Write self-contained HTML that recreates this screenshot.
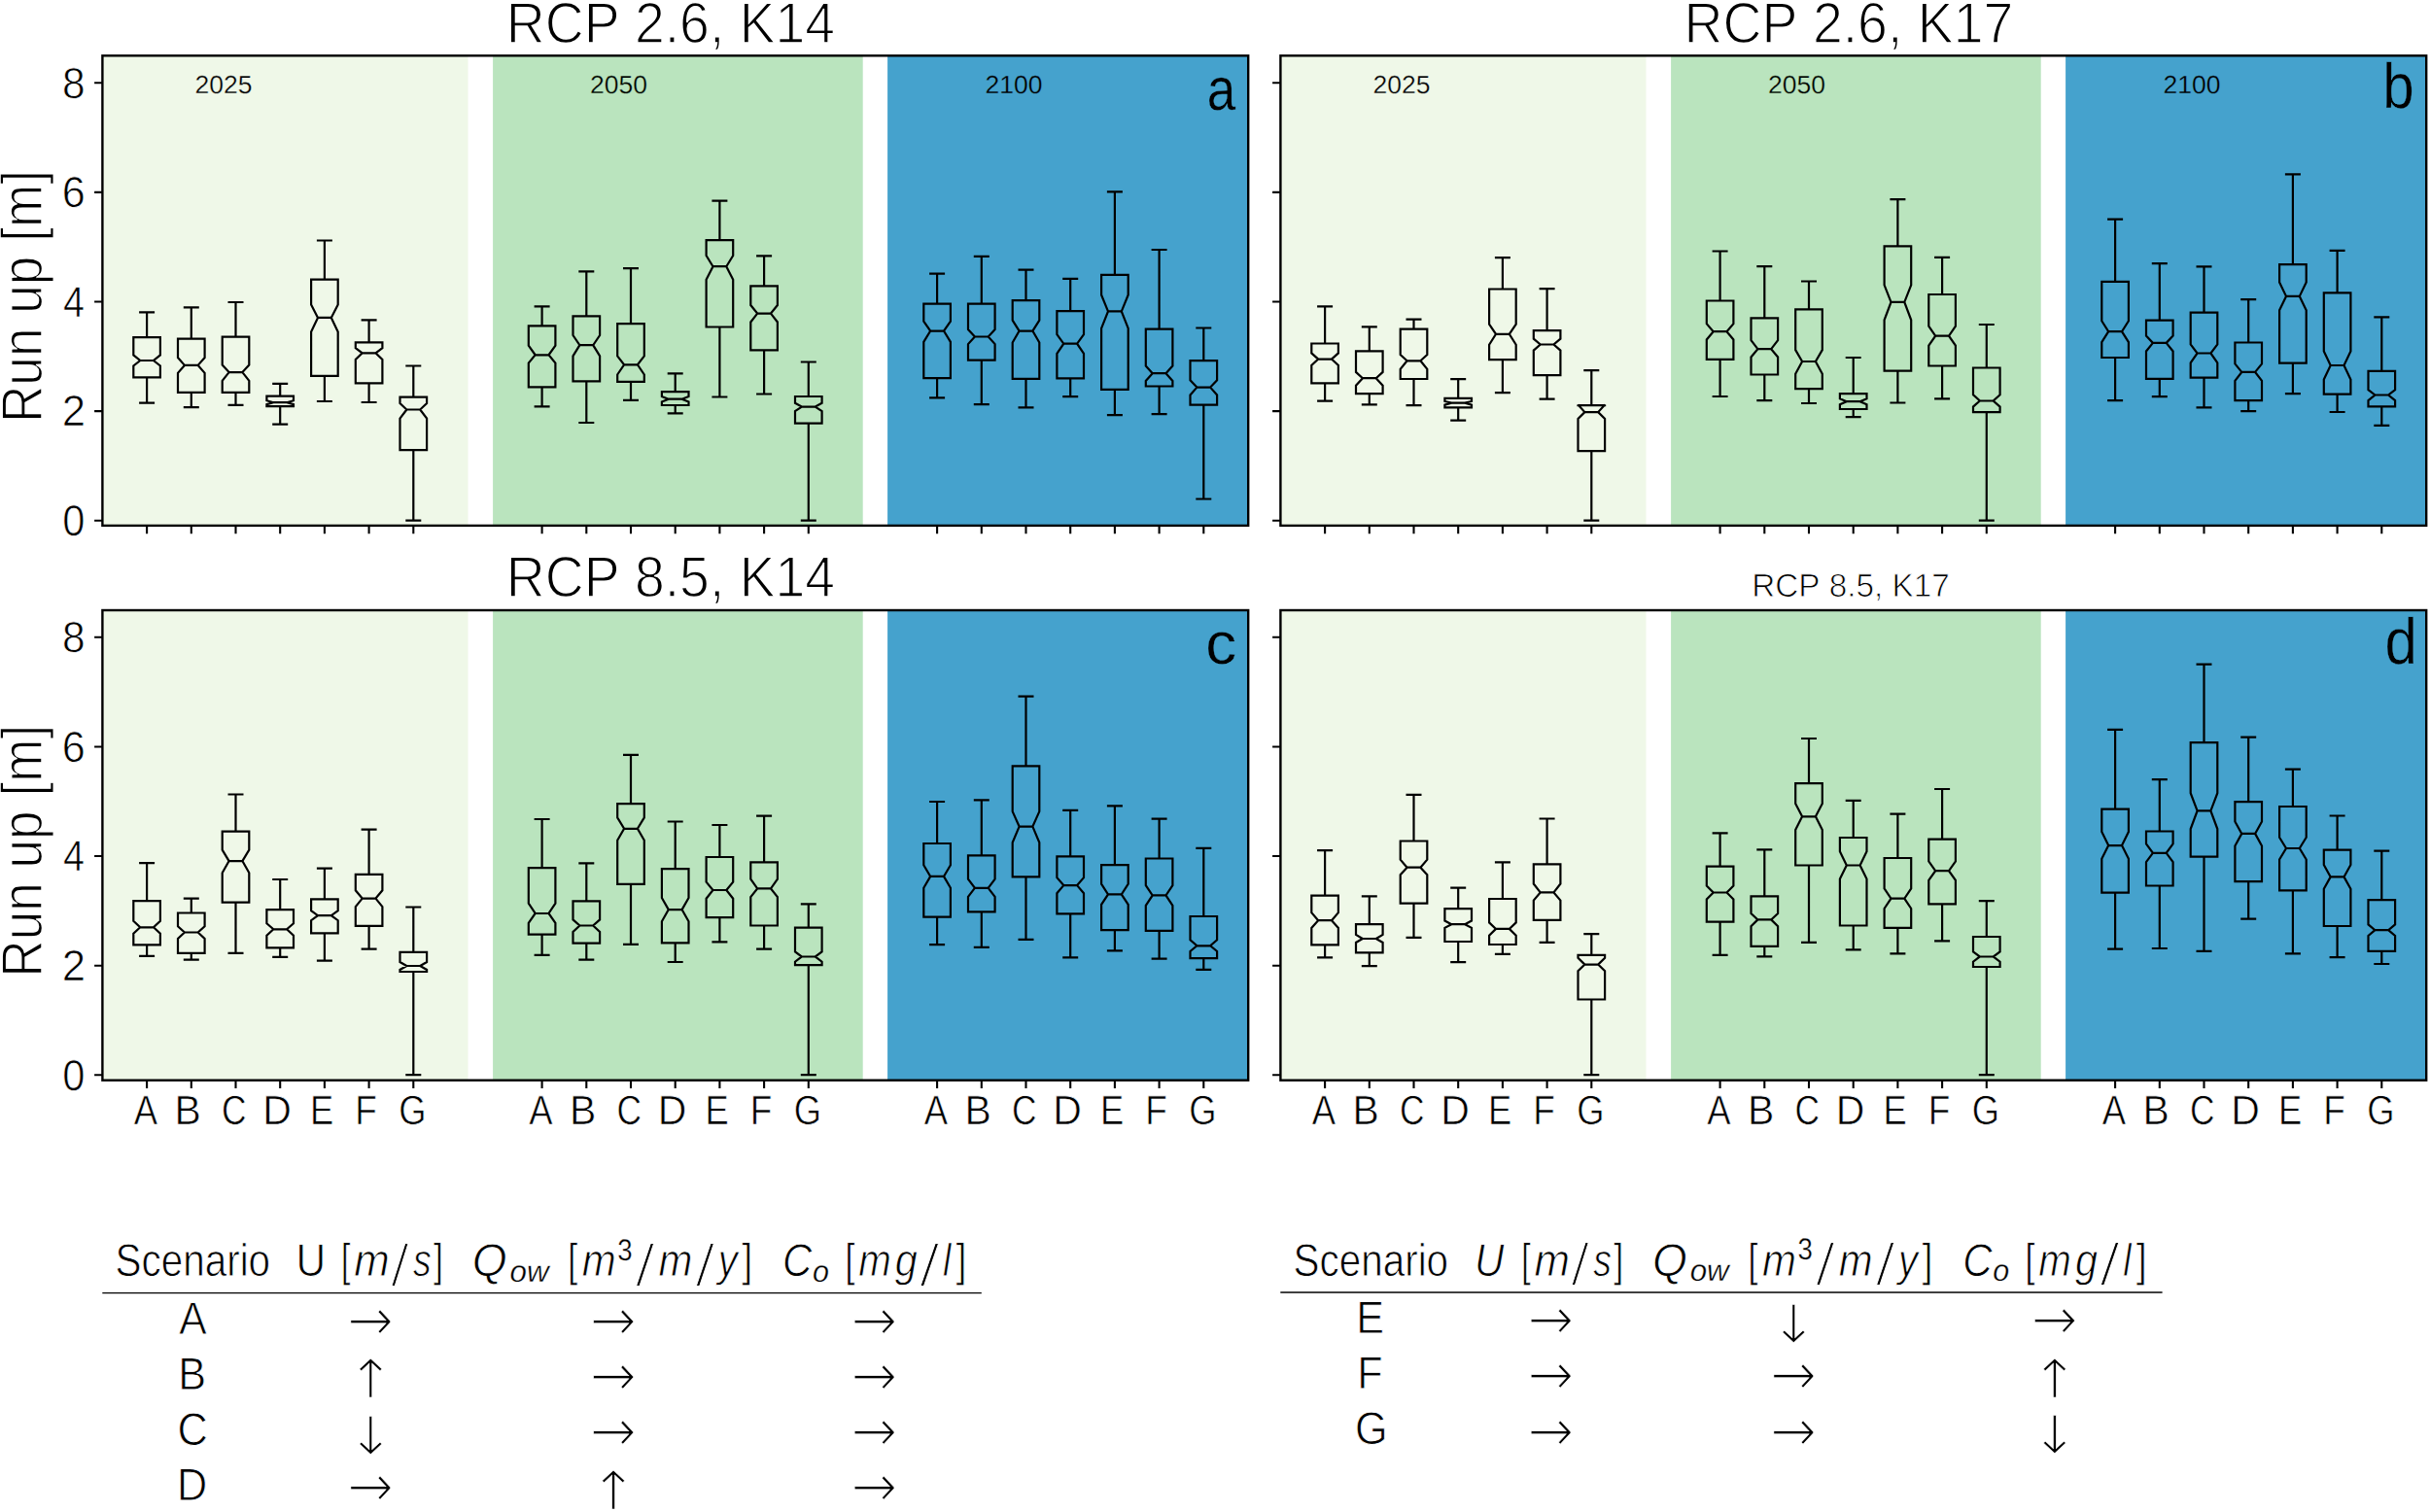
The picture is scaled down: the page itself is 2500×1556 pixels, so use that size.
<!DOCTYPE html>
<html lang="en"><head><meta charset="utf-8"><title>Run up box plots</title>
<style>html,body{margin:0;padding:0;background:#fff}body{width:2500px;height:1556px;overflow:hidden}svg{display:block}text{font-family:"Liberation Sans",sans-serif;fill:#000;font-kerning:none;text-rendering:geometricPrecision}.i{font-style:italic}.x{font-family:"DejaVu Sans Light","DejaVu Sans",sans-serif;font-weight:200}</style></head><body>
<svg width="2500" height="1556" viewBox="0 0 2500 1556">
<rect width="2500" height="1556" fill="#fff"/>
<g id="panel-a">
<rect x="105.4" y="57.3" width="376.1" height="483.6" fill="#EFF8E8"/>
<rect x="507.1" y="57.3" width="380.6" height="483.6" fill="#BAE4BE"/>
<rect x="913.1" y="57.3" width="371.1" height="483.6" fill="#45A2CD"/>
<path d="M137.3 388.4H164.9V376.5L158 371L164.9 365.4V347.1H137.3V365.4L144.2 371L137.3 376.5ZM144.2 371H158M151.1 347.1V321.3M151.1 388.4V414.6M144.2 321.3H158M144.2 414.6H158M183 403.9H210.6V383.8L203.7 375.9L210.6 368V348.7H183V368L189.9 375.9L183 383.8ZM189.9 375.9H203.7M196.8 348.7V316.4M196.8 403.9V419.2M189.9 316.4H203.7M189.9 419.2H203.7M228.7 403.9H256.3V391.8L249.4 383.1L256.3 375.5V346.7H228.7V375.5L235.6 383.1L228.7 391.8ZM235.6 383.1H249.4M242.5 346.7V311M242.5 403.9V416.8M235.6 311H249.4M235.6 416.8H249.4M274.4 418.2H302V416.2L295.1 414.2L302 412.2V407.7H274.4V412.2L281.3 414.2L274.4 416.2ZM281.3 414.2H295.1M288.2 407.7V394.8M288.2 418.2V436.6M281.3 394.8H295.1M281.3 436.6H295.1M320.1 386.8H347.7V341.6L340.8 326.9L347.7 313.4V287.6H320.1V313.4L327 326.9L320.1 341.6ZM327 326.9H340.8M333.9 287.6V247.5M333.9 386.8V413M327 247.5H340.8M327 413H340.8M365.8 394.4H393.4V370L386.5 363.4L393.4 358.1V352.3H365.8V358.1L372.7 363.4L365.8 370ZM372.7 363.4H386.5M379.6 352.3V329.3M379.6 394.4V414M372.7 329.3H386.5M372.7 414H386.5M411.5 463.2H439.1V430.5L432.2 421.5L439.1 415V408.7H411.5V415L418.4 421.5L411.5 430.5ZM418.4 421.5H432.2M425.3 408.7V376.5M425.3 463.2V535.6M418.4 376.5H432.2M418.4 535.6H432.2M543.8 398.3H571.4V373.6L564.5 365.3L571.4 355.6V335.4H543.8V355.6L550.7 365.3L543.8 373.6ZM550.7 365.3H564.5M557.6 335.4V315.4M557.6 398.3V418.3M550.7 315.4H564.5M550.7 418.3H564.5M589.5 392.3H617.1V366.4L610.2 355.2L617.1 345V325.3H589.5V345L596.4 355.2L589.5 366.4ZM596.4 355.2H610.2M603.3 325.3V279.4M603.3 392.3V435M596.4 279.4H610.2M596.4 435H610.2M635.2 392.9H662.8V385.5L655.9 375.4L662.8 366.4V333.1H635.2V366.4L642.1 375.4L635.2 385.5ZM642.1 375.4H655.9M649 333.1V276.2M649 392.9V411.8M642.1 276.2H655.9M642.1 411.8H655.9M680.9 417H708.5V413.6L701.6 410.7L708.5 408V403.1H680.9V408L687.8 410.7L680.9 413.6ZM687.8 410.7H701.6M694.7 403.1V384.4M694.7 417V425.3M687.8 384.4H701.6M687.8 425.3H701.6M726.6 336.5H754.2V287.7L747.3 274.2L754.2 263V247.2H726.6V263L733.5 274.2L726.6 287.7ZM733.5 274.2H747.3M740.4 247.2V206.7M740.4 336.5V408.5M733.5 206.7H747.3M733.5 408.5H747.3M772.3 360.3H799.9V331.5L793 322.6L799.9 314V294.4H772.3V314L779.2 322.6L772.3 331.5ZM779.2 322.6H793M786.1 294.4V263.4M786.1 360.3V405.5M779.2 263.4H793M779.2 405.5H793M818 435.7H845.6V423.1L838.7 418.6L845.6 414.8V408H818V414.8L824.9 418.6L818 423.1ZM824.9 418.6H838.7M831.8 408V372.5M831.8 435.7V535.7M824.9 372.5H838.7M824.9 535.7H838.7M950.3 389.2H977.9V351.9L971 340.6L977.9 330.7V312.7H950.3V330.7L957.2 340.6L950.3 351.9ZM957.2 340.6H971M964.1 312.7V281.7M964.1 389.2V409.4M957.2 281.7H971M957.2 409.4H971M996 370.7H1023.6V354.1L1016.7 346.5L1023.6 339V312.7H996V339L1002.9 346.5L996 354.1ZM1002.9 346.5H1016.7M1009.8 312.7V263.9M1009.8 370.7V416.2M1002.9 263.9H1016.7M1002.9 416.2H1016.7M1041.7 389.9H1069.3V352.5L1062.4 340.6L1069.3 329.6V309.1H1041.7V329.6L1048.6 340.6L1041.7 352.5ZM1048.6 340.6H1062.4M1055.5 309.1V277.6M1055.5 389.9V419.3M1048.6 277.6H1062.4M1048.6 419.3H1062.4M1087.4 389.4H1115V363.8L1108.1 353.7L1115 344.2V320.1H1087.4V344.2L1094.3 353.7L1087.4 363.8ZM1094.3 353.7H1108.1M1101.2 320.1V286.9M1101.2 389.4V408.1M1094.3 286.9H1108.1M1094.3 408.1H1108.1M1133.1 400.9H1160.7V337.9L1153.8 320.4L1160.7 303.5V282.8H1133.1V303.5L1140 320.4L1133.1 337.9ZM1140 320.4H1153.8M1146.9 282.8V197.4M1146.9 400.9V427.2M1140 197.4H1153.8M1140 427.2H1153.8M1178.8 397.5H1206.4V391.9L1199.5 384.2L1206.4 376.6V338.6H1178.8V376.6L1185.7 384.2L1178.8 391.9ZM1185.7 384.2H1199.5M1192.6 338.6V257M1192.6 397.5V426.1M1185.7 257H1199.5M1185.7 426.1H1199.5M1224.5 416.6H1252.1V406.5L1245.2 398.6L1252.1 391.2V371.2H1224.5V391.2L1231.4 398.6L1224.5 406.5ZM1231.4 398.6H1245.2M1238.3 371.2V337.5M1238.3 416.6V513.5M1231.4 337.5H1245.2M1231.4 513.5H1245.2" fill="none" stroke="#000" stroke-width="2.2" stroke-linecap="square" stroke-linejoin="miter" stroke-miterlimit="2"/>
<rect x="105.4" y="57.3" width="1178.8" height="483.6" fill="none" stroke="#000" stroke-width="2.4"/>
<path d="M97.1 535.7H105.4M97.1 423.08H105.4M97.1 310.46H105.4M97.1 197.84H105.4M97.1 85.22H105.4M151.1 540.9V549.2M196.8 540.9V549.2M242.5 540.9V549.2M288.2 540.9V549.2M333.9 540.9V549.2M379.6 540.9V549.2M425.3 540.9V549.2M557.6 540.9V549.2M603.3 540.9V549.2M649 540.9V549.2M694.7 540.9V549.2M740.4 540.9V549.2M786.1 540.9V549.2M831.8 540.9V549.2M964.1 540.9V549.2M1009.8 540.9V549.2M1055.5 540.9V549.2M1101.2 540.9V549.2M1146.9 540.9V549.2M1192.6 540.9V549.2M1238.3 540.9V549.2" fill="none" stroke="#000" stroke-width="2.1"/>
<text transform="translate(64.27 551.1) scale(0.9334 1.0000)" font-size="44.6" stroke="#fff" stroke-width="0.75" vector-effect="non-scaling-stroke">0</text>
<text transform="translate(63.7 438.48) scale(0.9794 1.0000)" font-size="44.6" stroke="#fff" stroke-width="0.75" vector-effect="non-scaling-stroke">2</text>
<text transform="translate(64.99 325.86) scale(0.8855 1.0000)" font-size="44.6" stroke="#fff" stroke-width="0.75" vector-effect="non-scaling-stroke">4</text>
<text transform="translate(63.71 213.24) scale(0.9670 1.0000)" font-size="44.6" stroke="#fff" stroke-width="0.75" vector-effect="non-scaling-stroke">6</text>
<text transform="translate(64.06 100.62) scale(0.9509 1.0000)" font-size="44.6" stroke="#fff" stroke-width="0.75" vector-effect="non-scaling-stroke">8</text>
<text transform="translate(43.1 435.06) rotate(-90) scale(0.8966 1)" font-size="59.3" stroke="#fff" stroke-width="1.46" vector-effect="non-scaling-stroke">Run up [m]</text>
<text transform="translate(200.47 96.3) scale(1.0209 1.0000)" font-size="26" stroke="#EFF8E8" stroke-width="0.3" vector-effect="non-scaling-stroke">2025</text>
<text transform="translate(606.97 96.3) scale(1.0195 1.0000)" font-size="26" stroke="#BAE4BE" stroke-width="0.3" vector-effect="non-scaling-stroke">2050</text>
<text transform="translate(1013.47 96.3) scale(1.0195 1.0000)" font-size="26" stroke="#45A2CD" stroke-width="0.3" vector-effect="non-scaling-stroke">2100</text>
<text transform="translate(520.76 43.5) scale(0.9332 1.0000)" font-size="59.3" stroke="#fff" stroke-width="1.46" vector-effect="non-scaling-stroke">RCP 2.6, K14</text>
<text transform="translate(1241.75 112.6) scale(0.8405 0.9793)" font-size="63" stroke="#45A2CD" stroke-width="0.4" vector-effect="non-scaling-stroke">a</text>
</g>
<g id="panel-b">
<rect x="1317.4" y="57.3" width="376.1" height="483.6" fill="#EFF8E8"/>
<rect x="1719.1" y="57.3" width="380.6" height="483.6" fill="#BAE4BE"/>
<rect x="2125.1" y="57.3" width="371.1" height="483.6" fill="#45A2CD"/>
<path d="M1349.3 394.4H1376.9V375.9L1370 369.6L1376.9 363.4V353.5H1349.3V363.4L1356.2 369.6L1349.3 375.9ZM1356.2 369.6H1370M1363.1 353.5V315.4M1363.1 394.4V412.6M1356.2 315.4H1370M1356.2 412.6H1370M1395 405.1H1422.6V396.7L1415.7 389.2L1422.6 382.9V361.4H1395V382.9L1401.9 389.2L1395 396.7ZM1401.9 389.2H1415.7M1408.8 361.4V336.4M1408.8 405.1V416.4M1401.9 336.4H1415.7M1401.9 416.4H1415.7M1440.7 390H1468.3V379.9L1461.4 371.3L1468.3 365V338.6H1440.7V365L1447.6 371.3L1440.7 379.9ZM1447.6 371.3H1461.4M1454.5 338.6V328.7M1454.5 390V417.2M1447.6 328.7H1461.4M1447.6 417.2H1461.4M1486.4 419.4H1514V416.6L1507.1 414.6L1514 413V409.8H1486.4V413L1493.3 414.6L1486.4 416.6ZM1493.3 414.6H1507.1M1500.2 409.8V390.2M1500.2 419.4V432.7M1493.3 390.2H1507.1M1493.3 432.7H1507.1M1532.1 370.2H1559.7V354.7L1552.8 343.8L1559.7 333.7V297.5H1532.1V333.7L1539 343.8L1532.1 354.7ZM1539 343.8H1552.8M1545.9 297.5V265.2M1545.9 370.2V404.1M1539 265.2H1552.8M1539 404.1H1552.8M1577.8 386.2H1605.4V360.6L1598.5 354.5L1605.4 348.7V340.2H1577.8V348.7L1584.7 354.5L1577.8 360.6ZM1584.7 354.5H1598.5M1591.6 340.2V297.1M1591.6 386.2V410.6M1584.7 297.1H1598.5M1584.7 410.6H1598.5M1623.5 464.2H1651.1V430.9L1644.2 424.1L1651.1 416.6V417.2H1623.5V416.6L1630.4 424.1L1623.5 430.9ZM1630.4 424.1H1644.2M1637.3 417.2V381.1M1637.3 464.2V535.6M1630.4 381.1H1644.2M1630.4 535.6H1644.2M1755.8 369.8H1783.4V349.5L1776.5 341.2L1783.4 333.1V309.5H1755.8V333.1L1762.7 341.2L1755.8 349.5ZM1762.7 341.2H1776.5M1769.6 309.5V258.5M1769.6 369.8V408M1762.7 258.5H1776.5M1762.7 408H1776.5M1801.5 385.5H1829.1V367.5L1822.2 359.2L1829.1 350.2V327.3H1801.5V350.2L1808.4 359.2L1801.5 367.5ZM1808.4 359.2H1822.2M1815.3 327.3V274.2M1815.3 385.5V412.1M1808.4 274.2H1822.2M1808.4 412.1H1822.2M1847.2 400.1H1874.8V384.8L1867.9 372L1874.8 360.1V318.3H1847.2V360.1L1854.1 372L1847.2 384.8ZM1854.1 372H1867.9M1861 318.3V289.5M1861 400.1V415M1854.1 289.5H1867.9M1854.1 415H1867.9M1892.9 421H1920.5V416.3L1913.6 413.2L1920.5 410.3V405.1H1892.9V410.3L1899.8 413.2L1892.9 416.3ZM1899.8 413.2H1913.6M1906.7 405.1V368M1906.7 421V429.1M1899.8 368H1913.6M1899.8 429.1H1913.6M1938.6 381.7H1966.2V329.3L1959.3 310.9L1966.2 293.3V253.3H1938.6V293.3L1945.5 310.9L1938.6 329.3ZM1945.5 310.9H1959.3M1952.4 253.3V205.2M1952.4 381.7V414.5M1945.5 205.2H1959.3M1945.5 414.5H1959.3M1984.3 376.5H2011.9V355.6L2005 345.7L2011.9 335.6V303H1984.3V335.6L1991.2 345.7L1984.3 355.6ZM1991.2 345.7H2005M1998.1 303V264.8M1998.1 376.5V410.3M1991.2 264.8H2005M1991.2 410.3H2005M2030 424.2H2057.6V418.6L2050.7 412.5L2057.6 406.2V378.5H2030V406.2L2036.9 412.5L2030 418.6ZM2036.9 412.5H2050.7M2043.8 378.5V334M2043.8 424.2V535.7M2036.9 334H2050.7M2036.9 535.7H2050.7M2162.3 368H2189.9V352.1L2183 341.2L2189.9 330.3V289.8H2162.3V330.3L2169.2 341.2L2162.3 352.1ZM2169.2 341.2H2183M2176.1 289.8V225.6M2176.1 368V412.1M2169.2 225.6H2183M2169.2 412.1H2183M2208 389.8H2235.6V361.5L2228.7 352.9L2235.6 345.6V329.7H2208V345.6L2214.9 352.9L2208 361.5ZM2214.9 352.9H2228.7M2221.8 329.7V271.2M2221.8 389.8V408.1M2214.9 271.2H2228.7M2214.9 408.1H2228.7M2253.7 388.7H2281.3V373.4L2274.4 363.5L2281.3 354.5V321.6H2253.7V354.5L2260.6 363.5L2253.7 373.4ZM2260.6 363.5H2274.4M2267.5 321.6V274.4M2267.5 388.7V419.4M2260.6 274.4H2274.4M2260.6 419.4H2274.4M2299.4 412.1H2327V391.8L2320.1 382.9L2327 374.4V352.5H2299.4V374.4L2306.3 382.9L2299.4 391.8ZM2306.3 382.9H2320.1M2313.2 352.5V308.1M2313.2 412.1V423.2M2306.3 308.1H2320.1M2306.3 423.2H2320.1M2345.1 373.6H2372.7V319.2L2365.8 304.9L2372.7 290.4V272.2H2345.1V290.4L2352 304.9L2345.1 319.2ZM2352 304.9H2365.8M2358.9 272.2V179.3M2358.9 373.6V405.1M2352 179.3H2365.8M2352 405.1H2365.8M2390.8 405.7H2418.4V390.6L2411.5 376L2418.4 361.5V301.3H2390.8V361.5L2397.7 376L2390.8 390.6ZM2397.7 376H2411.5M2404.6 301.3V257.9M2404.6 405.7V424M2397.7 257.9H2411.5M2397.7 424H2411.5M2436.5 418.4H2464.1V412.1L2457.2 406.5L2464.1 401.2V381.9H2436.5V401.2L2443.4 406.5L2436.5 412.1ZM2443.4 406.5H2457.2M2450.3 381.9V326.3M2450.3 418.4V437.9M2443.4 326.3H2457.2M2443.4 437.9H2457.2" fill="none" stroke="#000" stroke-width="2.2" stroke-linecap="square" stroke-linejoin="miter" stroke-miterlimit="2"/>
<rect x="1317.4" y="57.3" width="1178.8" height="483.6" fill="none" stroke="#000" stroke-width="2.4"/>
<path d="M1309.1 535.7H1317.4M1309.1 423.08H1317.4M1309.1 310.46H1317.4M1309.1 197.84H1317.4M1309.1 85.22H1317.4M1363.1 540.9V549.2M1408.8 540.9V549.2M1454.5 540.9V549.2M1500.2 540.9V549.2M1545.9 540.9V549.2M1591.6 540.9V549.2M1637.3 540.9V549.2M1769.6 540.9V549.2M1815.3 540.9V549.2M1861 540.9V549.2M1906.7 540.9V549.2M1952.4 540.9V549.2M1998.1 540.9V549.2M2043.8 540.9V549.2M2176.1 540.9V549.2M2221.8 540.9V549.2M2267.5 540.9V549.2M2313.2 540.9V549.2M2358.9 540.9V549.2M2404.6 540.9V549.2M2450.3 540.9V549.2" fill="none" stroke="#000" stroke-width="2.1"/>
<text transform="translate(1412.47 96.3) scale(1.0209 1.0000)" font-size="26" stroke="#EFF8E8" stroke-width="0.3" vector-effect="non-scaling-stroke">2025</text>
<text transform="translate(1818.97 96.3) scale(1.0195 1.0000)" font-size="26" stroke="#BAE4BE" stroke-width="0.3" vector-effect="non-scaling-stroke">2050</text>
<text transform="translate(2225.47 96.3) scale(1.0195 1.0000)" font-size="26" stroke="#45A2CD" stroke-width="0.3" vector-effect="non-scaling-stroke">2100</text>
<text transform="translate(1732.56 43.5) scale(0.9342 1.0000)" font-size="59.3" stroke="#fff" stroke-width="1.46" vector-effect="non-scaling-stroke">RCP 2.6, K17</text>
<text transform="translate(2451.34 111.16) scale(0.9248 1.0332)" font-size="63" stroke="#45A2CD" stroke-width="0.4" vector-effect="non-scaling-stroke">b</text>
</g>
<g id="panel-c">
<rect x="105.4" y="628" width="376.1" height="483.7" fill="#EFF8E8"/>
<rect x="507.1" y="628" width="380.6" height="483.7" fill="#BAE4BE"/>
<rect x="913.1" y="628" width="371.1" height="483.7" fill="#45A2CD"/>
<path d="M137.3 972.4H164.9V960.7L158 954.3L164.9 947.8V927.2H137.3V947.8L144.2 954.3L137.3 960.7ZM144.2 954.3H158M151.1 927.2V888.1M151.1 972.4V983.9M144.2 888.1H158M144.2 983.9H158M183 980.9H210.6V966L203.7 959.5L210.6 953.2V939.5H183V953.2L189.9 959.5L183 966ZM189.9 959.5H203.7M196.8 939.5V924.6M196.8 980.9V987.7M189.9 924.6H203.7M189.9 987.7H203.7M228.7 928.6H256.3V898.2L249.4 886.1L256.3 874.6V855.6H228.7V874.6L235.6 886.1L228.7 898.2ZM235.6 886.1H249.4M242.5 855.6V817.5M242.5 928.6V980.9M235.6 817.5H249.4M235.6 980.9H249.4M274.4 975.4H302V962.7L295.1 956.3L302 950.2V936.1H274.4V950.2L281.3 956.3L274.4 962.7ZM281.3 956.3H295.1M288.2 936.1V905M288.2 975.4V984.9M281.3 905H295.1M281.3 984.9H295.1M320.1 960.3H347.7V947.2L340.8 942.2L347.7 937.1V925.4H320.1V937.1L327 942.2L320.1 947.2ZM327 942.2H340.8M333.9 925.4V893.7M333.9 960.3V988.7M327 893.7H340.8M327 988.7H340.8M365.8 952.8H393.4V933.1L386.5 924.6L393.4 916.3V899.8H365.8V916.3L372.7 924.6L365.8 933.1ZM372.7 924.6H386.5M379.6 899.8V853.6M379.6 952.8V976.6M372.7 853.6H386.5M372.7 976.6H386.5M411.5 1000H439.1V998L432.2 994L439.1 990V979.9H411.5V990L418.4 994L411.5 998ZM418.4 994H432.2M425.3 979.9V933.5M425.3 1000V1106.1M418.4 933.5H432.2M418.4 1106.1H432.2M543.8 961.7H571.4V949.8L564.5 940L571.4 929.7V893.2H543.8V929.7L550.7 940L543.8 949.8ZM550.7 940H564.5M557.6 893.2V843M557.6 961.7V982.9M550.7 843H564.5M550.7 982.9H564.5M589.5 970.6H617.1V958.9L610.2 952.5L617.1 946.4V927.4H589.5V946.4L596.4 952.5L589.5 958.9ZM596.4 952.5H610.2M603.3 927.4V888.4M603.3 970.6V987.7M596.4 888.4H610.2M596.4 987.7H610.2M635.2 909.9H662.8V864.7L655.9 852.8L662.8 841.4V827.1H635.2V841.4L642.1 852.8L635.2 864.7ZM642.1 852.8H655.9M649 827.1V776.9M649 909.9V971.9M642.1 776.9H655.9M642.1 971.9H655.9M680.9 970.3H708.5V948.2L701.6 936.1L708.5 924V894.1H680.9V924L687.8 936.1L680.9 948.2ZM687.8 936.1H701.6M694.7 894.1V845.5M694.7 970.3V990M687.8 845.5H701.6M687.8 990H701.6M726.6 944.1H754.2V924.7L747.3 916L754.2 907.6V882H726.6V907.6L733.5 916L726.6 924.7ZM733.5 916H747.3M740.4 882V849M740.4 944.1V969.4M733.5 849H747.3M733.5 969.4H747.3M772.3 952.5H799.9V923.1L793 914.4L799.9 904.6V887.3H772.3V904.6L779.2 914.4L772.3 923.1ZM779.2 914.4H793M786.1 887.3V839.6M786.1 952.5V976.7M779.2 839.6H793M779.2 976.7H793M818 993.2H845.6V989.7L838.7 984.5L845.6 979.5V954.6H818V979.5L824.9 984.5L818 989.7ZM824.9 984.5H838.7M831.8 954.6V930.4M831.8 993.2V1106.1M824.9 930.4H838.7M824.9 1106.1H838.7M950.3 943.6H977.9V913.8L971 901.9L977.9 890.2V868H950.3V890.2L957.2 901.9L950.3 913.8ZM957.2 901.9H971M964.1 868V825M964.1 943.6V972.2M957.2 825H971M957.2 972.2H971M996 938.4H1023.6V922.8L1016.7 913.8L1023.6 904.7V880.3H996V904.7L1002.9 913.8L996 922.8ZM1002.9 913.8H1016.7M1009.8 880.3V823.4M1009.8 938.4V974.9M1002.9 823.4H1016.7M1002.9 974.9H1016.7M1041.7 902.3H1069.3V867L1062.4 850.6L1069.3 835.1V788.3H1041.7V835.1L1048.6 850.6L1041.7 867ZM1048.6 850.6H1062.4M1055.5 788.3V716.7M1055.5 902.3V966.8M1048.6 716.7H1062.4M1048.6 966.8H1062.4M1087.4 940.4H1115V919.2L1108.1 911.1L1115 903.1V881.3H1087.4V903.1L1094.3 911.1L1087.4 919.2ZM1094.3 911.1H1108.1M1101.2 881.3V833.9M1101.2 940.4V985.4M1094.3 833.9H1108.1M1094.3 985.4H1108.1M1133.1 957.1H1160.7V930.9L1153.8 920.4L1160.7 909.7V890.2H1133.1V909.7L1140 920.4L1133.1 930.9ZM1140 920.4H1153.8M1146.9 890.2V829.4M1146.9 957.1V978.3M1140 829.4H1153.8M1140 978.3H1153.8M1178.8 957.9H1206.4V931.9L1199.5 921.4L1206.4 911.1V883.5H1178.8V911.1L1185.7 921.4L1178.8 931.9ZM1185.7 921.4H1199.5M1192.6 883.5V842.6M1192.6 957.9V986.6M1185.7 842.6H1199.5M1185.7 986.6H1199.5M1224.5 986.2H1252.1V978.9L1245.2 973.3L1252.1 967.2V943H1224.5V967.2L1231.4 973.3L1224.5 978.9ZM1231.4 973.3H1245.2M1238.3 943V872.8M1238.3 986.2V997.9M1231.4 872.8H1245.2M1231.4 997.9H1245.2" fill="none" stroke="#000" stroke-width="2.2" stroke-linecap="square" stroke-linejoin="miter" stroke-miterlimit="2"/>
<rect x="105.4" y="628" width="1178.8" height="483.7" fill="none" stroke="#000" stroke-width="2.4"/>
<path d="M97.1 1106.3H105.4M97.1 993.68H105.4M97.1 881.06H105.4M97.1 768.44H105.4M97.1 655.82H105.4M151.1 1111.7V1120M196.8 1111.7V1120M242.5 1111.7V1120M288.2 1111.7V1120M333.9 1111.7V1120M379.6 1111.7V1120M425.3 1111.7V1120M557.6 1111.7V1120M603.3 1111.7V1120M649 1111.7V1120M694.7 1111.7V1120M740.4 1111.7V1120M786.1 1111.7V1120M831.8 1111.7V1120M964.1 1111.7V1120M1009.8 1111.7V1120M1055.5 1111.7V1120M1101.2 1111.7V1120M1146.9 1111.7V1120M1192.6 1111.7V1120M1238.3 1111.7V1120" fill="none" stroke="#000" stroke-width="2.1"/>
<text transform="translate(64.27 1121.7) scale(0.9334 1.0000)" font-size="44.6" stroke="#fff" stroke-width="0.75" vector-effect="non-scaling-stroke">0</text>
<text transform="translate(63.7 1009.08) scale(0.9794 1.0000)" font-size="44.6" stroke="#fff" stroke-width="0.75" vector-effect="non-scaling-stroke">2</text>
<text transform="translate(64.99 896.46) scale(0.8855 1.0000)" font-size="44.6" stroke="#fff" stroke-width="0.75" vector-effect="non-scaling-stroke">4</text>
<text transform="translate(63.71 783.84) scale(0.9670 1.0000)" font-size="44.6" stroke="#fff" stroke-width="0.75" vector-effect="non-scaling-stroke">6</text>
<text transform="translate(64.06 671.22) scale(0.9509 1.0000)" font-size="44.6" stroke="#fff" stroke-width="0.75" vector-effect="non-scaling-stroke">8</text>
<text transform="translate(43.1 1005.76) rotate(-90) scale(0.8966 1)" font-size="59.3" stroke="#fff" stroke-width="1.46" vector-effect="non-scaling-stroke">Run up [m]</text>
<text transform="translate(137.83 1156.9) scale(0.8608 1.0000)" font-size="42.4" stroke="#fff" stroke-width="0.65" vector-effect="non-scaling-stroke">A</text>
<text transform="translate(179.54 1156.9) scale(0.9660 1.0000)" font-size="42.4" stroke="#fff" stroke-width="0.65" vector-effect="non-scaling-stroke">B</text>
<text transform="translate(227.9 1156.9) scale(0.8342 1.0000)" font-size="42.4" stroke="#fff" stroke-width="0.65" vector-effect="non-scaling-stroke">C</text>
<text transform="translate(270.13 1156.9) scale(0.9676 1.0000)" font-size="42.4" stroke="#fff" stroke-width="0.65" vector-effect="non-scaling-stroke">D</text>
<text transform="translate(318.92 1156.9) scale(0.8572 1.0000)" font-size="42.4" stroke="#fff" stroke-width="0.65" vector-effect="non-scaling-stroke">E</text>
<text transform="translate(365.26 1156.9) scale(0.8734 1.0000)" font-size="42.4" stroke="#fff" stroke-width="0.65" vector-effect="non-scaling-stroke">F</text>
<text transform="translate(410.27 1156.9) scale(0.8562 1.0000)" font-size="42.4" stroke="#fff" stroke-width="0.65" vector-effect="non-scaling-stroke">G</text>
<text transform="translate(544.33 1156.9) scale(0.8608 1.0000)" font-size="42.4" stroke="#fff" stroke-width="0.65" vector-effect="non-scaling-stroke">A</text>
<text transform="translate(586.04 1156.9) scale(0.9660 1.0000)" font-size="42.4" stroke="#fff" stroke-width="0.65" vector-effect="non-scaling-stroke">B</text>
<text transform="translate(634.4 1156.9) scale(0.8342 1.0000)" font-size="42.4" stroke="#fff" stroke-width="0.65" vector-effect="non-scaling-stroke">C</text>
<text transform="translate(676.63 1156.9) scale(0.9676 1.0000)" font-size="42.4" stroke="#fff" stroke-width="0.65" vector-effect="non-scaling-stroke">D</text>
<text transform="translate(725.42 1156.9) scale(0.8572 1.0000)" font-size="42.4" stroke="#fff" stroke-width="0.65" vector-effect="non-scaling-stroke">E</text>
<text transform="translate(771.76 1156.9) scale(0.8734 1.0000)" font-size="42.4" stroke="#fff" stroke-width="0.65" vector-effect="non-scaling-stroke">F</text>
<text transform="translate(816.77 1156.9) scale(0.8562 1.0000)" font-size="42.4" stroke="#fff" stroke-width="0.65" vector-effect="non-scaling-stroke">G</text>
<text transform="translate(950.83 1156.9) scale(0.8608 1.0000)" font-size="42.4" stroke="#fff" stroke-width="0.65" vector-effect="non-scaling-stroke">A</text>
<text transform="translate(992.54 1156.9) scale(0.9660 1.0000)" font-size="42.4" stroke="#fff" stroke-width="0.65" vector-effect="non-scaling-stroke">B</text>
<text transform="translate(1040.9 1156.9) scale(0.8342 1.0000)" font-size="42.4" stroke="#fff" stroke-width="0.65" vector-effect="non-scaling-stroke">C</text>
<text transform="translate(1083.13 1156.9) scale(0.9676 1.0000)" font-size="42.4" stroke="#fff" stroke-width="0.65" vector-effect="non-scaling-stroke">D</text>
<text transform="translate(1131.92 1156.9) scale(0.8572 1.0000)" font-size="42.4" stroke="#fff" stroke-width="0.65" vector-effect="non-scaling-stroke">E</text>
<text transform="translate(1178.26 1156.9) scale(0.8734 1.0000)" font-size="42.4" stroke="#fff" stroke-width="0.65" vector-effect="non-scaling-stroke">F</text>
<text transform="translate(1223.27 1156.9) scale(0.8562 1.0000)" font-size="42.4" stroke="#fff" stroke-width="0.65" vector-effect="non-scaling-stroke">G</text>
<text transform="translate(520.76 614.2) scale(0.9332 1.0000)" font-size="59.3" stroke="#fff" stroke-width="1.46" vector-effect="non-scaling-stroke">RCP 8.5, K14</text>
<text transform="translate(1240.29 682.61) scale(1.0124 0.9648)" font-size="63" stroke="#45A2CD" stroke-width="0.4" vector-effect="non-scaling-stroke">c</text>
</g>
<g id="panel-d">
<rect x="1317.4" y="628" width="376.1" height="483.7" fill="#EFF8E8"/>
<rect x="1719.1" y="628" width="380.6" height="483.7" fill="#BAE4BE"/>
<rect x="2125.1" y="628" width="371.1" height="483.7" fill="#45A2CD"/>
<path d="M1349.3 972.4H1376.9V954.9L1370 947.2L1376.9 939.1V921.6H1349.3V939.1L1356.2 947.2L1349.3 954.9ZM1356.2 947.2H1370M1363.1 921.6V875.2M1363.1 972.4V985.3M1356.2 875.2H1370M1356.2 985.3H1370M1395 980.3H1422.6V970L1415.7 966L1422.6 961.9V951.2H1395V961.9L1401.9 966L1395 970ZM1401.9 966H1415.7M1408.8 951.2V922.4M1408.8 980.3V994.2M1401.9 922.4H1415.7M1401.9 994.2H1415.7M1440.7 929.6H1468.3V900.2L1461.4 892.7L1468.3 884.7V865.5H1440.7V884.7L1447.6 892.7L1440.7 900.2ZM1447.6 892.7H1461.4M1454.5 865.5V817.9M1454.5 929.6V964.9M1447.6 817.9H1461.4M1447.6 964.9H1461.4M1486.4 969H1514V954.9L1507.1 951.2L1514 947.6V935.1H1486.4V947.6L1493.3 951.2L1486.4 954.9ZM1493.3 951.2H1507.1M1500.2 935.1V913.7M1500.2 969V990.2M1493.3 913.7H1507.1M1493.3 990.2H1507.1M1532.1 972H1559.7V962.7L1552.8 955.9L1559.7 949.4V925H1532.1V949.4L1539 955.9L1532.1 962.7ZM1539 955.9H1552.8M1545.9 925V887.3M1545.9 972V981.9M1539 887.3H1552.8M1539 981.9H1552.8M1577.8 946.8H1605.4V926.6L1598.5 918.4L1605.4 909.5V889.3H1577.8V909.5L1584.7 918.4L1577.8 926.6ZM1584.7 918.4H1598.5M1591.6 889.3V842.5M1591.6 946.8V969.8M1584.7 842.5H1598.5M1584.7 969.8H1598.5M1623.5 1028.5H1651.1V999.2L1644.2 992.6L1651.1 985.9V982.9H1623.5V985.9L1630.4 992.6L1623.5 999.2ZM1630.4 992.6H1644.2M1637.3 982.9V961.1M1637.3 1028.5V1106.1M1630.4 961.1H1644.2M1630.4 1106.1H1644.2M1755.8 948.7H1783.4V925.4L1776.5 918.5L1783.4 911.5V891.6H1755.8V911.5L1762.7 918.5L1755.8 925.4ZM1762.7 918.5H1776.5M1769.6 891.6V857.4M1769.6 948.7V982.9M1762.7 857.4H1776.5M1762.7 982.9H1776.5M1801.5 973.8H1829.1V953.2L1822.2 946.4L1829.1 940V922.4H1801.5V940L1808.4 946.4L1801.5 953.2ZM1808.4 946.4H1822.2M1815.3 922.4V874.3M1815.3 973.8V984.3M1808.4 874.3H1822.2M1808.4 984.3H1822.2M1847.2 890.5H1874.8V854L1867.9 840.3L1874.8 827.1V806.1H1847.2V827.1L1854.1 840.3L1847.2 854ZM1854.1 840.3H1867.9M1861 806.1V760M1861 890.5V969.9M1854.1 760H1867.9M1854.1 969.9H1867.9M1892.9 952.5H1920.5V904.6L1913.6 890.5L1920.5 876.3V862H1892.9V876.3L1899.8 890.5L1892.9 904.6ZM1899.8 890.5H1913.6M1906.7 862V823.9M1906.7 952.5V977.4M1899.8 823.9H1913.6M1899.8 977.4H1913.6M1938.6 954.8H1966.2V935L1959.3 924.7L1966.2 914.4V883H1938.6V914.4L1945.5 924.7L1938.6 935ZM1945.5 924.7H1959.3M1952.4 883V837.6M1952.4 954.8V981.3M1945.5 837.6H1959.3M1945.5 981.3H1959.3M1984.3 930.4H2011.9V905.8L2005 896.2L2011.9 886.4V863.6H1984.3V886.4L1991.2 896.2L1984.3 905.8ZM1991.2 896.2H2005M1998.1 863.6V812M1998.1 930.4V968.3M1991.2 812H2005M1991.2 968.3H2005M2030 995H2057.6V989.7L2050.7 984.5L2057.6 979.5V964H2030V979.5L2036.9 984.5L2030 989.7ZM2036.9 984.5H2050.7M2043.8 964V927.2M2043.8 995V1106.1M2036.9 927.2H2050.7M2036.9 1106.1H2050.7M2162.3 918.6H2189.9V883.8L2183 870.1L2189.9 856.1V832.6H2162.3V856.1L2169.2 870.1L2162.3 883.8ZM2169.2 870.1H2183M2176.1 832.6V750.9M2176.1 918.6V976.7M2169.2 750.9H2183M2169.2 976.7H2183M2208 911.5H2235.6V887.1L2228.7 877.8L2235.6 868.3V855.5H2208V868.3L2214.9 877.8L2208 887.1ZM2214.9 877.8H2228.7M2221.8 855.5V802.1M2221.8 911.5V976M2214.9 802.1H2228.7M2214.9 976H2228.7M2253.7 881.6H2281.3V853L2274.4 834.4L2281.3 816.2V764.2H2253.7V816.2L2260.6 834.4L2253.7 853ZM2260.6 834.4H2274.4M2267.5 764.2V683.7M2267.5 881.6V978.9M2260.6 683.7H2274.4M2260.6 978.9H2274.4M2299.4 907.1H2327V870.5L2320.1 857.9L2327 845.5V825.1H2299.4V845.5L2306.3 857.9L2299.4 870.5ZM2306.3 857.9H2320.1M2313.2 825.1V758.6M2313.2 907.1V945.6M2306.3 758.6H2320.1M2306.3 945.6H2320.1M2345.1 916.4H2372.7V884.5L2365.8 873L2372.7 861.7V830H2345.1V861.7L2352 873L2345.1 884.5ZM2352 873H2365.8M2358.9 830V791.6M2358.9 916.4V981.3M2352 791.6H2365.8M2352 981.3H2365.8M2390.8 953H2418.4V914.8L2411.5 902.4L2418.4 890V874.7H2390.8V890L2397.7 902.4L2390.8 914.8ZM2397.7 902.4H2411.5M2404.6 874.7V839.5M2404.6 953V985.1M2397.7 839.5H2411.5M2397.7 985.1H2411.5M2436.5 978.9H2464.1V962.9L2457.2 957.2L2464.1 951.4V926.1H2436.5V951.4L2443.4 957.2L2436.5 962.9ZM2443.4 957.2H2457.2M2450.3 926.1V875.6M2450.3 978.9V992M2443.4 875.6H2457.2M2443.4 992H2457.2" fill="none" stroke="#000" stroke-width="2.2" stroke-linecap="square" stroke-linejoin="miter" stroke-miterlimit="2"/>
<rect x="1317.4" y="628" width="1178.8" height="483.7" fill="none" stroke="#000" stroke-width="2.4"/>
<path d="M1309.1 1106.3H1317.4M1309.1 993.68H1317.4M1309.1 881.06H1317.4M1309.1 768.44H1317.4M1309.1 655.82H1317.4M1363.1 1111.7V1120M1408.8 1111.7V1120M1454.5 1111.7V1120M1500.2 1111.7V1120M1545.9 1111.7V1120M1591.6 1111.7V1120M1637.3 1111.7V1120M1769.6 1111.7V1120M1815.3 1111.7V1120M1861 1111.7V1120M1906.7 1111.7V1120M1952.4 1111.7V1120M1998.1 1111.7V1120M2043.8 1111.7V1120M2176.1 1111.7V1120M2221.8 1111.7V1120M2267.5 1111.7V1120M2313.2 1111.7V1120M2358.9 1111.7V1120M2404.6 1111.7V1120M2450.3 1111.7V1120" fill="none" stroke="#000" stroke-width="2.1"/>
<text transform="translate(1349.83 1156.9) scale(0.8608 1.0000)" font-size="42.4" stroke="#fff" stroke-width="0.65" vector-effect="non-scaling-stroke">A</text>
<text transform="translate(1391.54 1156.9) scale(0.9660 1.0000)" font-size="42.4" stroke="#fff" stroke-width="0.65" vector-effect="non-scaling-stroke">B</text>
<text transform="translate(1439.9 1156.9) scale(0.8342 1.0000)" font-size="42.4" stroke="#fff" stroke-width="0.65" vector-effect="non-scaling-stroke">C</text>
<text transform="translate(1482.13 1156.9) scale(0.9676 1.0000)" font-size="42.4" stroke="#fff" stroke-width="0.65" vector-effect="non-scaling-stroke">D</text>
<text transform="translate(1530.92 1156.9) scale(0.8572 1.0000)" font-size="42.4" stroke="#fff" stroke-width="0.65" vector-effect="non-scaling-stroke">E</text>
<text transform="translate(1577.26 1156.9) scale(0.8734 1.0000)" font-size="42.4" stroke="#fff" stroke-width="0.65" vector-effect="non-scaling-stroke">F</text>
<text transform="translate(1622.27 1156.9) scale(0.8562 1.0000)" font-size="42.4" stroke="#fff" stroke-width="0.65" vector-effect="non-scaling-stroke">G</text>
<text transform="translate(1756.33 1156.9) scale(0.8608 1.0000)" font-size="42.4" stroke="#fff" stroke-width="0.65" vector-effect="non-scaling-stroke">A</text>
<text transform="translate(1798.04 1156.9) scale(0.9660 1.0000)" font-size="42.4" stroke="#fff" stroke-width="0.65" vector-effect="non-scaling-stroke">B</text>
<text transform="translate(1846.4 1156.9) scale(0.8342 1.0000)" font-size="42.4" stroke="#fff" stroke-width="0.65" vector-effect="non-scaling-stroke">C</text>
<text transform="translate(1888.63 1156.9) scale(0.9676 1.0000)" font-size="42.4" stroke="#fff" stroke-width="0.65" vector-effect="non-scaling-stroke">D</text>
<text transform="translate(1937.42 1156.9) scale(0.8572 1.0000)" font-size="42.4" stroke="#fff" stroke-width="0.65" vector-effect="non-scaling-stroke">E</text>
<text transform="translate(1983.76 1156.9) scale(0.8734 1.0000)" font-size="42.4" stroke="#fff" stroke-width="0.65" vector-effect="non-scaling-stroke">F</text>
<text transform="translate(2028.77 1156.9) scale(0.8562 1.0000)" font-size="42.4" stroke="#fff" stroke-width="0.65" vector-effect="non-scaling-stroke">G</text>
<text transform="translate(2162.83 1156.9) scale(0.8608 1.0000)" font-size="42.4" stroke="#fff" stroke-width="0.65" vector-effect="non-scaling-stroke">A</text>
<text transform="translate(2204.54 1156.9) scale(0.9660 1.0000)" font-size="42.4" stroke="#fff" stroke-width="0.65" vector-effect="non-scaling-stroke">B</text>
<text transform="translate(2252.9 1156.9) scale(0.8342 1.0000)" font-size="42.4" stroke="#fff" stroke-width="0.65" vector-effect="non-scaling-stroke">C</text>
<text transform="translate(2295.13 1156.9) scale(0.9676 1.0000)" font-size="42.4" stroke="#fff" stroke-width="0.65" vector-effect="non-scaling-stroke">D</text>
<text transform="translate(2343.92 1156.9) scale(0.8572 1.0000)" font-size="42.4" stroke="#fff" stroke-width="0.65" vector-effect="non-scaling-stroke">E</text>
<text transform="translate(2390.26 1156.9) scale(0.8734 1.0000)" font-size="42.4" stroke="#fff" stroke-width="0.65" vector-effect="non-scaling-stroke">F</text>
<text transform="translate(2435.27 1156.9) scale(0.8562 1.0000)" font-size="42.4" stroke="#fff" stroke-width="0.65" vector-effect="non-scaling-stroke">G</text>
<text transform="translate(1802.27 614) scale(0.9881 1.0000)" font-size="33.7" stroke="#fff" stroke-width="0.83" vector-effect="non-scaling-stroke">RCP 8.5, K17</text>
<text transform="translate(2453.38 682.55) scale(0.9530 1.0569)" font-size="63" stroke="#45A2CD" stroke-width="0.4" vector-effect="non-scaling-stroke">d</text>
</g>
<g>
<text transform="translate(118.56 1313.3) scale(0.8600 1.0000)" font-size="47" stroke="#fff" stroke-width="0.87" vector-effect="non-scaling-stroke">Scenario</text>
<text transform="translate(304.53 1313.3) scale(0.9030 1.0000)" font-size="47" stroke="#fff" stroke-width="0.87" vector-effect="non-scaling-stroke">U</text>
<text transform="translate(350.79 1313.36) scale(0.7494 1.0089)" font-size="47" stroke="#fff" stroke-width="0.87" vector-effect="non-scaling-stroke">[</text>
<text transform="translate(364.27 1313.3) scale(0.9312 1.0000)" font-size="47" class="i" stroke="#fff" stroke-width="0.87" vector-effect="non-scaling-stroke">m</text>
<text transform="translate(405.19 1322.81) scale(0.8604 1.2806)" font-size="47" class="i" stroke="#fff" stroke-width="0.87" vector-effect="non-scaling-stroke">/</text>
<text transform="translate(425.11 1313.3) scale(0.7939 1.0000)" font-size="47" class="i" stroke="#fff" stroke-width="0.87" vector-effect="non-scaling-stroke">s</text>
<text transform="translate(446.12 1313.36) scale(0.7709 1.0089)" font-size="47" stroke="#fff" stroke-width="0.87" vector-effect="non-scaling-stroke">]</text>
<text transform="translate(485.82 1313.3) scale(0.9816 1.0000)" font-size="47" class="i" stroke="#fff" stroke-width="0.87" vector-effect="non-scaling-stroke">Q</text>
<text transform="translate(524.48 1319.1) scale(1.0105 1.0000)" font-size="31" class="i" stroke="#fff" stroke-width="0.35" vector-effect="non-scaling-stroke">ow</text>
<text transform="translate(583.95 1313.36) scale(0.7923 1.0089)" font-size="47" stroke="#fff" stroke-width="0.87" vector-effect="non-scaling-stroke">[</text>
<text transform="translate(598.8 1313.3) scale(0.8925 1.0000)" font-size="47" class="i" stroke="#fff" stroke-width="0.87" vector-effect="non-scaling-stroke">m</text>
<text transform="translate(635.35 1296.5) scale(0.8913 1.0000)" font-size="31" stroke="#fff" stroke-width="0.35" vector-effect="non-scaling-stroke">3</text>
<text transform="translate(656.94 1322.81) scale(0.9160 1.2806)" font-size="47" class="i" stroke="#fff" stroke-width="0.87" vector-effect="non-scaling-stroke">/</text>
<text transform="translate(677.51 1313.3) scale(0.8897 1.0000)" font-size="47" class="i" stroke="#fff" stroke-width="0.87" vector-effect="non-scaling-stroke">m</text>
<text transform="translate(718.74 1322.81) scale(0.9160 1.2806)" font-size="47" class="i" stroke="#fff" stroke-width="0.87" vector-effect="non-scaling-stroke">/</text>
<text transform="translate(738.87 1313.3) scale(0.8519 1.0000)" font-size="47" class="i" stroke="#fff" stroke-width="0.87" vector-effect="non-scaling-stroke">y</text>
<text transform="translate(763.29 1313.36) scale(0.8458 1.0089)" font-size="47" stroke="#fff" stroke-width="0.87" vector-effect="non-scaling-stroke">]</text>
<text transform="translate(804.98 1313.3) scale(0.8955 1.0000)" font-size="47" class="i" stroke="#fff" stroke-width="0.87" vector-effect="non-scaling-stroke">C</text>
<text transform="translate(836.1 1319.1) scale(0.9841 1.0000)" font-size="31" class="i" stroke="#fff" stroke-width="0.35" vector-effect="non-scaling-stroke">o</text>
<text transform="translate(869.15 1313.36) scale(0.7923 1.0089)" font-size="47" stroke="#fff" stroke-width="0.87" vector-effect="non-scaling-stroke">[</text>
<text transform="translate(883.13 1313.3) scale(0.8566 1.0000)" font-size="47" class="i" stroke="#fff" stroke-width="0.87" vector-effect="non-scaling-stroke">m</text>
<text transform="translate(920.82 1313.3) scale(0.8816 1.0000)" font-size="47" class="i" stroke="#fff" stroke-width="0.87" vector-effect="non-scaling-stroke">g</text>
<text transform="translate(949.61 1322.81) scale(0.9413 1.2806)" font-size="47" class="i" stroke="#fff" stroke-width="0.87" vector-effect="non-scaling-stroke">/</text>
<text transform="translate(970.09 1313.3) scale(0.8007 1.0000)" font-size="47" class="i" stroke="#fff" stroke-width="0.87" vector-effect="non-scaling-stroke">l</text>
<text transform="translate(983.49 1313.36) scale(0.8458 1.0089)" font-size="47" stroke="#fff" stroke-width="0.87" vector-effect="non-scaling-stroke">]</text>
<path d="M105.3 1330.7H1009.8" stroke="#000" stroke-width="1.3" fill="none"/>
<text transform="translate(183.98 1372.5) scale(0.9200 1.0000)" font-size="47" stroke="#fff" stroke-width="0.87" vector-effect="non-scaling-stroke">A</text>
<text transform="translate(357.72 1378.81) scale(1.1149 1.2000)" font-size="50" class="x" stroke="#fff" stroke-width="0.45" vector-effect="non-scaling-stroke">→</text>
<text transform="translate(607.62 1378.81) scale(1.1149 1.2000)" font-size="50" class="x" stroke="#fff" stroke-width="0.45" vector-effect="non-scaling-stroke">→</text>
<text transform="translate(876.02 1378.81) scale(1.1149 1.2000)" font-size="50" class="x" stroke="#fff" stroke-width="0.45" vector-effect="non-scaling-stroke">→</text>
<text transform="translate(183.35 1429.7) scale(0.9200 1.0000)" font-size="47" stroke="#fff" stroke-width="0.87" vector-effect="non-scaling-stroke">B</text>
<text transform="translate(357.2 1438.2) scale(1.1505 1.0793)" font-size="50" class="x" stroke="#fff" stroke-width="0.45" vector-effect="non-scaling-stroke">↑</text>
<text transform="translate(607.62 1436.01) scale(1.1149 1.2000)" font-size="50" class="x" stroke="#fff" stroke-width="0.45" vector-effect="non-scaling-stroke">→</text>
<text transform="translate(876.02 1436.01) scale(1.1149 1.2000)" font-size="50" class="x" stroke="#fff" stroke-width="0.45" vector-effect="non-scaling-stroke">→</text>
<text transform="translate(182.51 1486.9) scale(0.9200 1.0000)" font-size="47" stroke="#fff" stroke-width="0.87" vector-effect="non-scaling-stroke">C</text>
<text transform="translate(357.2 1495.62) scale(1.1505 1.0575)" font-size="50" class="x" stroke="#fff" stroke-width="0.45" vector-effect="non-scaling-stroke">↓</text>
<text transform="translate(607.62 1493.21) scale(1.1149 1.2000)" font-size="50" class="x" stroke="#fff" stroke-width="0.45" vector-effect="non-scaling-stroke">→</text>
<text transform="translate(876.02 1493.21) scale(1.1149 1.2000)" font-size="50" class="x" stroke="#fff" stroke-width="0.45" vector-effect="non-scaling-stroke">→</text>
<text transform="translate(182.05 1544.1) scale(0.9200 1.0000)" font-size="47" stroke="#fff" stroke-width="0.87" vector-effect="non-scaling-stroke">D</text>
<text transform="translate(357.72 1550.41) scale(1.1149 1.2000)" font-size="50" class="x" stroke="#fff" stroke-width="0.45" vector-effect="non-scaling-stroke">→</text>
<text transform="translate(607.1 1552.6) scale(1.1505 1.0793)" font-size="50" class="x" stroke="#fff" stroke-width="0.45" vector-effect="non-scaling-stroke">↑</text>
<text transform="translate(876.02 1550.41) scale(1.1149 1.2000)" font-size="50" class="x" stroke="#fff" stroke-width="0.45" vector-effect="non-scaling-stroke">→</text>
</g>
<g>
<text transform="translate(1330.56 1312.6) scale(0.8600 1.0000)" font-size="47" stroke="#fff" stroke-width="0.87" vector-effect="non-scaling-stroke">Scenario</text>
<text transform="translate(1517.05 1312.6) scale(0.8969 1.0000)" font-size="47" class="i" stroke="#fff" stroke-width="0.87" vector-effect="non-scaling-stroke">U</text>
<text transform="translate(1564.99 1312.66) scale(0.7494 1.0089)" font-size="47" stroke="#fff" stroke-width="0.87" vector-effect="non-scaling-stroke">[</text>
<text transform="translate(1578.47 1312.6) scale(0.9312 1.0000)" font-size="47" class="i" stroke="#fff" stroke-width="0.87" vector-effect="non-scaling-stroke">m</text>
<text transform="translate(1619.39 1322.11) scale(0.8604 1.2806)" font-size="47" class="i" stroke="#fff" stroke-width="0.87" vector-effect="non-scaling-stroke">/</text>
<text transform="translate(1639.31 1312.6) scale(0.7939 1.0000)" font-size="47" class="i" stroke="#fff" stroke-width="0.87" vector-effect="non-scaling-stroke">s</text>
<text transform="translate(1660.32 1312.66) scale(0.7709 1.0089)" font-size="47" stroke="#fff" stroke-width="0.87" vector-effect="non-scaling-stroke">]</text>
<text transform="translate(1700.02 1312.6) scale(0.9816 1.0000)" font-size="47" class="i" stroke="#fff" stroke-width="0.87" vector-effect="non-scaling-stroke">Q</text>
<text transform="translate(1738.68 1318.4) scale(1.0105 1.0000)" font-size="31" class="i" stroke="#fff" stroke-width="0.35" vector-effect="non-scaling-stroke">ow</text>
<text transform="translate(1798.15 1312.66) scale(0.7923 1.0089)" font-size="47" stroke="#fff" stroke-width="0.87" vector-effect="non-scaling-stroke">[</text>
<text transform="translate(1813 1312.6) scale(0.8925 1.0000)" font-size="47" class="i" stroke="#fff" stroke-width="0.87" vector-effect="non-scaling-stroke">m</text>
<text transform="translate(1849.55 1295.8) scale(0.8913 1.0000)" font-size="31" stroke="#fff" stroke-width="0.35" vector-effect="non-scaling-stroke">3</text>
<text transform="translate(1871.14 1322.11) scale(0.9160 1.2806)" font-size="47" class="i" stroke="#fff" stroke-width="0.87" vector-effect="non-scaling-stroke">/</text>
<text transform="translate(1891.71 1312.6) scale(0.8897 1.0000)" font-size="47" class="i" stroke="#fff" stroke-width="0.87" vector-effect="non-scaling-stroke">m</text>
<text transform="translate(1932.94 1322.11) scale(0.9160 1.2806)" font-size="47" class="i" stroke="#fff" stroke-width="0.87" vector-effect="non-scaling-stroke">/</text>
<text transform="translate(1953.07 1312.6) scale(0.8519 1.0000)" font-size="47" class="i" stroke="#fff" stroke-width="0.87" vector-effect="non-scaling-stroke">y</text>
<text transform="translate(1977.49 1312.66) scale(0.8458 1.0089)" font-size="47" stroke="#fff" stroke-width="0.87" vector-effect="non-scaling-stroke">]</text>
<text transform="translate(2019.18 1312.6) scale(0.8955 1.0000)" font-size="47" class="i" stroke="#fff" stroke-width="0.87" vector-effect="non-scaling-stroke">C</text>
<text transform="translate(2050.3 1318.4) scale(0.9841 1.0000)" font-size="31" class="i" stroke="#fff" stroke-width="0.35" vector-effect="non-scaling-stroke">o</text>
<text transform="translate(2083.35 1312.66) scale(0.7923 1.0089)" font-size="47" stroke="#fff" stroke-width="0.87" vector-effect="non-scaling-stroke">[</text>
<text transform="translate(2097.33 1312.6) scale(0.8566 1.0000)" font-size="47" class="i" stroke="#fff" stroke-width="0.87" vector-effect="non-scaling-stroke">m</text>
<text transform="translate(2135.02 1312.6) scale(0.8816 1.0000)" font-size="47" class="i" stroke="#fff" stroke-width="0.87" vector-effect="non-scaling-stroke">g</text>
<text transform="translate(2163.81 1322.11) scale(0.9413 1.2806)" font-size="47" class="i" stroke="#fff" stroke-width="0.87" vector-effect="non-scaling-stroke">/</text>
<text transform="translate(2184.29 1312.6) scale(0.8007 1.0000)" font-size="47" class="i" stroke="#fff" stroke-width="0.87" vector-effect="non-scaling-stroke">l</text>
<text transform="translate(2197.69 1312.66) scale(0.8458 1.0089)" font-size="47" stroke="#fff" stroke-width="0.87" vector-effect="non-scaling-stroke">]</text>
<path d="M1317.3 1330H2224.6" stroke="#000" stroke-width="1.3" fill="none"/>
<text transform="translate(1395.14 1371.8) scale(0.9200 1.0000)" font-size="47" stroke="#fff" stroke-width="0.87" vector-effect="non-scaling-stroke">E</text>
<text transform="translate(1571.92 1378.11) scale(1.1149 1.2000)" font-size="50" class="x" stroke="#fff" stroke-width="0.45" vector-effect="non-scaling-stroke">→</text>
<text transform="translate(1821.3 1380.52) scale(1.1505 1.0575)" font-size="50" class="x" stroke="#fff" stroke-width="0.45" vector-effect="non-scaling-stroke">↓</text>
<text transform="translate(2090.22 1378.11) scale(1.1149 1.2000)" font-size="50" class="x" stroke="#fff" stroke-width="0.45" vector-effect="non-scaling-stroke">→</text>
<text transform="translate(1396.29 1429) scale(0.9200 1.0000)" font-size="47" stroke="#fff" stroke-width="0.87" vector-effect="non-scaling-stroke">F</text>
<text transform="translate(1571.92 1435.31) scale(1.1149 1.2000)" font-size="50" class="x" stroke="#fff" stroke-width="0.45" vector-effect="non-scaling-stroke">→</text>
<text transform="translate(1821.82 1435.31) scale(1.1149 1.2000)" font-size="50" class="x" stroke="#fff" stroke-width="0.45" vector-effect="non-scaling-stroke">→</text>
<text transform="translate(2089.7 1437.5) scale(1.1505 1.0793)" font-size="50" class="x" stroke="#fff" stroke-width="0.45" vector-effect="non-scaling-stroke">↑</text>
<text transform="translate(1394.11 1486.2) scale(0.9200 1.0000)" font-size="47" stroke="#fff" stroke-width="0.87" vector-effect="non-scaling-stroke">G</text>
<text transform="translate(1571.92 1492.51) scale(1.1149 1.2000)" font-size="50" class="x" stroke="#fff" stroke-width="0.45" vector-effect="non-scaling-stroke">→</text>
<text transform="translate(1821.82 1492.51) scale(1.1149 1.2000)" font-size="50" class="x" stroke="#fff" stroke-width="0.45" vector-effect="non-scaling-stroke">→</text>
<text transform="translate(2089.7 1494.92) scale(1.1505 1.0575)" font-size="50" class="x" stroke="#fff" stroke-width="0.45" vector-effect="non-scaling-stroke">↓</text>
</g>
</svg></body></html>
